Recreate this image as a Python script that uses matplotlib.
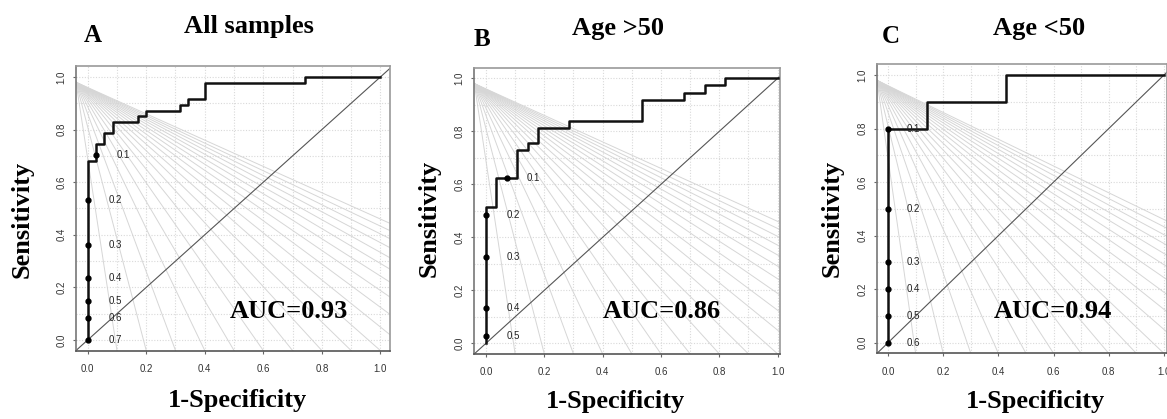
import numpy as np
import matplotlib.pyplot as plt

# ==========================
# Data
# ==========================
panel_letters = ["A", "B", "C"]
titles = ["All samples", "Age >50", "Age <50"]
auc_labels = ["AUC=0.93", "AUC=0.86", "AUC=0.94"]

# step ROC curves (1-specificity, sensitivity), drawn with steps-post
fpr_a = [0, 0, 0.029, 0.057, 0.086, 0.171, 0.2, 0.314, 0.343, 0.4, 0.743, 1.0]
tpr_a = [0, 0.681, 0.745, 0.787, 0.830, 0.851, 0.872, 0.894, 0.915, 0.979, 1.0, 1.0]

fpr_b = [0, 0, 0.036, 0.107, 0.143, 0.179, 0.286, 0.536, 0.679, 0.75, 0.821, 1.0]
tpr_b = [0, 0.514, 0.622, 0.730, 0.757, 0.811, 0.838, 0.919, 0.946, 0.973, 1.0, 1.0]

fpr_c = [0, 0, 0.143, 0.429, 1.0]
tpr_c = [0, 0.8, 0.9, 1.0, 1.0]

# cutoff points printed on the curves
cut_x_a = [0.029, 0, 0, 0, 0, 0, 0]
cut_y_a = [0.702, 0.532, 0.362, 0.234, 0.149, 0.085, 0.0]
cut_lab_a = ["0.1", "0.2", "0.3", "0.4", "0.5", "0.6", "0.7"]

cut_x_b = [0.071, 0, 0, 0, 0]
cut_y_b = [0.622, 0.486, 0.324, 0.135, 0.027]
cut_lab_b = ["0.1", "0.2", "0.3", "0.4", "0.5"]

cut_x_c = [0, 0, 0, 0, 0, 0]
cut_y_c = [0.8, 0.5, 0.3, 0.2, 0.1, 0.0]
cut_lab_c = ["0.1", "0.2", "0.3", "0.4", "0.5", "0.6"]

auc_pos = [(0.689, 0.084), (0.603, 0.094), (0.596, 0.091)]

curves = [(fpr_a, tpr_a), (fpr_b, tpr_b), (fpr_c, tpr_c)]
cutoffs = [(cut_x_a, cut_y_a, cut_lab_a),
           (cut_x_b, cut_y_b, cut_lab_b),
           (cut_x_c, cut_y_c, cut_lab_c)]

# ==========================
# Layout (pixels of a 1167x419 canvas)
# ==========================
W, H = 1167, 419
# left, right, top, bottom of each axes box, and its upper x limit
boxes = [(76, 390, 66.5, 350.5, 1.033),
         (474.3, 780, 67.7, 353.9, 1.008),
         (877, 1167, 64.3, 353.4, 1.011)]
letter_xy = [(93, 41.5), (481.5, 45.5), (891, 43.3)]
title_xy = [(249, 33), (618.3, 35), (1039.2, 35)]
ylab_xy = [(22, 219), (429, 218), (831.7, 218)]
xlab_xy = [(237, 407), (615.8, 408), (1035, 408)]

serif = "Liberation Serif"
sans = "Liberation Sans"

fig = plt.figure(figsize=(W / 100, H / 100), dpi=100)

for i in range(3):
    l, r, t, b, xmax = boxes[i]
    ax = fig.add_axes([l / W, 1 - b / H, (r - l) / W, (b - t) / H])
    ax.set_xlim(-0.04, xmax)
    ax.set_ylim(-0.04, 1.04)

    # dotted grid
    for g in np.arange(0, 1.01, 0.1):
        ax.axvline(g, color="#d9d9d9", lw=0.8, ls=(0, (1, 1.5)), zorder=0)
        ax.axhline(g, color="#d9d9d9", lw=0.8, ls=(0, (1, 1.5)), zorder=0)

    # fan of reference lines from the upper left corner
    for tgt in np.arange(0.1, 2.05, 0.1):
        ax.axline((-0.04, 0.98), (tgt, -0.04), color="#d6d6d6", lw=0.7, zorder=1)

    ax.axline((0, 0), (1, 1), color="#555555", lw=0.8, zorder=2)

    fx, ty = curves[i]
    ax.step(fx, ty, where="post", color="#111111", lw=1.8, zorder=3)

    cx, cy, cl = cutoffs[i]
    ax.plot(cx, cy, "o", color="black", ms=3.5, zorder=4)
    for x, y, s in zip(cx, cy, cl):
        ax.text(x + 0.093, y, s, fontsize=7, family=sans, color="#222222",
                va="center", ha="center", zorder=4)

    ax.text(auc_pos[i][0], auc_pos[i][1], auc_labels[i], fontsize=19,
            family=serif, fontweight="bold", ha="center", va="baseline", zorder=5)

    ticks = [0, 0.2, 0.4, 0.6, 0.8, 1.0]
    ax.set_xticks(ticks)
    ax.set_yticks(ticks)
    ax.set_xticklabels([f"{v:.1f}" for v in ticks], fontsize=7, family=sans, color="#333333")
    ax.set_yticklabels([f"{v:.1f}" for v in ticks], fontsize=7, family=sans, color="#333333",
                       rotation=90, va="center")
    ax.tick_params(axis="x", length=2.5, width=0.8, color="#666666", pad=7)
    ax.tick_params(axis="y", length=2.5, width=0.8, color="#666666", pad=4.5)

    for side in ["top", "left", "right"]:
        ax.spines[side].set_color("#9a9a9a")
        ax.spines[side].set_linewidth(1.2)
    ax.spines["bottom"].set_color("#555555")
    ax.spines["bottom"].set_linewidth(1.2)
    ax.spines["left"].set_color("#777777")

    # panel texts
    fig.text(letter_xy[i][0] / W, 1 - letter_xy[i][1] / H, panel_letters[i],
             fontsize=18, family=serif, fontweight="bold", ha="center", va="baseline")
    fig.text(title_xy[i][0] / W, 1 - title_xy[i][1] / H, titles[i],
             fontsize=19, family=serif, fontweight="bold", ha="center", va="baseline")
    fig.text(ylab_xy[i][0] / W, 1 - ylab_xy[i][1] / H, "Sensitivity",
             fontsize=19, family=serif, fontweight="bold", ha="center", va="center",
             rotation=90)
    fig.text(xlab_xy[i][0] / W, 1 - xlab_xy[i][1] / H, "1-Specificity",
             fontsize=19, family=serif, fontweight="bold", ha="center", va="baseline")

fig.savefig("out.png", dpi=100)
